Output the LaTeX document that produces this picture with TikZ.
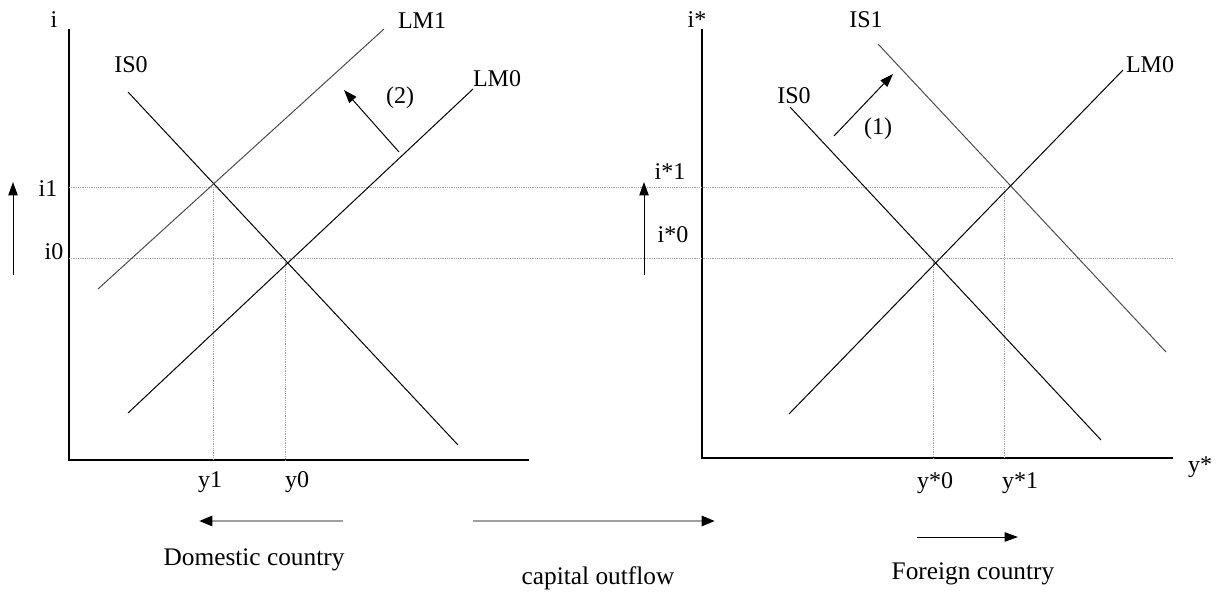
\documentclass[tikz,border=0pt]{standalone}
\usepackage{fontspec}
\setmainfont{Liberation Serif}
\usetikzlibrary{arrows.meta,positioning}

\begin{document}
\begin{tikzpicture}[x=0.75pt, y=-0.75pt,
        axis/.style={line width=1.5pt},
        curve/.style={line width=0.75pt},
        shifted/.style={line width=0.75pt, black!70},
        guide/.style={line width=0.75pt, gray!75, dash pattern=on 0.75pt off 0.6pt},
        arrow/.style={line width=0.75pt, -{Triangle[length=10pt, width=7pt]}},
        flow/.style={line width=2pt, gray!75, -{Triangle[length=10pt, width=7.5pt, color=black]}},
        lbl/.style={inner sep=0pt, font=\fontsize{18}{20}\selectfont},
        caption/.style={inner sep=0pt, font=\fontsize{19}{21}\selectfont}]

        \useasboundingbox (0,0) rectangle (1217,592);

        % Axes
        \coordinate (dtop) at (69,29);
        \coordinate (dorig) at (69,460);
        \coordinate (dend) at (529,460);
        \coordinate (ftop) at (702,29);
        \coordinate (forig) at (702,458);
        \coordinate (fend) at (1173,458);
        \draw[axis] (dtop) -- (dorig) -- (dend);
        \draw[axis] (ftop) -- (forig) -- (fend);

        % Equilibria
        \coordinate (dE1) at (213,187);
        \coordinate (dE0) at (285,258);
        \coordinate (fE0) at (933,258);
        \coordinate (fE1) at (1004,187);

        % Guide lines
        \draw[guide] (dtop |- dE1) -- (fE1);
        \draw[guide] (dtop |- dE0) -- (fend |- dE0);
        \draw[guide] (dE1) -- (dE1 |- dorig);
        \draw[guide] (dE0) -- (dE0 |- dorig);
        \draw[guide] (fE0) -- (fE0 |- forig);
        \draw[guide] (fE1) -- (fE1 |- forig);

        % Domestic curves
        \coordinate (dis0a) at (128,92);
        \coordinate (dis0b) at (458,445);
        \coordinate (dlm0a) at (128,413);
        \coordinate (dlm0b) at (473,89);
        \coordinate (dlm1a) at (98,289);
        \coordinate (dlm1b) at (384,29);
        \draw[curve] (dis0a) -- (dis0b);
        \draw[curve] (dlm0a) -- (dlm0b);
        \draw[shifted] (dlm1a) -- (dlm1b);

        % Foreign curves
        \coordinate (fis0a) at (790,107);
        \coordinate (fis0b) at (1101,440);
        \coordinate (fis1a) at (878,44);
        \coordinate (fis1b) at (1166,352);
        \coordinate (flm0a) at (789,414);
        \coordinate (flm0b) at (1123,70);
        \draw[curve] (fis0a) -- (fis0b);
        \draw[shifted] (fis1a) -- (fis1b);
        \draw[curve] (flm0a) -- (flm0b);

        % Labels
        \node[lbl] (ilab) at (54,20) {i};
        \node[lbl] (lm1lab) at (422,21) {LM1};
        \node[lbl] (is0lab) at (131,65) {IS0};
        \node[lbl] (lm0lab) at (497,79) {LM0};
        \node[lbl] (step2) at (400,98) {(2)};
        \node[lbl] (i1lab) at (48,189) {i1};
        \node[lbl] (i0lab) at (54,252) {i0};
        \node[lbl] (y1lab) at (210,482) {y1};
        \node[lbl] (y0lab) at (297,482) {y0};
        \node[lbl] (istarlab) at (697,20) {i*};
        \node[lbl] (fis1lab) at (866,20) {IS1};
        \node[lbl] (fis0lab) at (794,96) {IS0};
        \node[lbl] (flm0lab) at (1150,65) {LM0};
        \node[lbl] (step1) at (878,129) {(1)};
        \node[lbl] (istar1lab) at (670,172) {i*1};
        \node[lbl] (istar0lab) at (673,235) {i*0};
        \node[lbl] (ystar0lab) at (935,483) {y*0};
        \node[lbl] (ystar1lab) at (1020,483) {y*1};
        \node[lbl] (ystarlab) at (1200,467) {y*};
        \node[caption] (domlab) at (254,560) {Domestic country};
        \node[caption] (caplab) at (598,578) {capital outflow};
        \node[caption] (forlab) at (973,574) {Foreign country};

        % Arrows
        \coordinate (dup0) at (13,275);
        \coordinate (dup1) at (13,182);
        \coordinate (fup0) at (644,275);
        \coordinate (fup1) at (644,182);
        \coordinate (lmshift0) at (399,152);
        \coordinate (lmshift1) at (344,90);
        \coordinate (isshift0) at (834,136);
        \coordinate (isshift1) at (893,74);
        \coordinate (dout0) at (343,521);
        \coordinate (dout1) at (199,521);
        \coordinate (cap0) at (473,521);
        \coordinate (cap1) at (715,521);
        \coordinate (fout0) at (917,537);
        \coordinate (fout1) at (1018,537);
        \draw[arrow] (dup0) -- (dup1);
        \draw[arrow] (fup0) -- (fup1);
        \draw[arrow] (lmshift0) -- (lmshift1);
        \draw[arrow] (isshift0) -- (isshift1);
        \draw[flow] (dout0) -- (dout1);
        \draw[flow] (cap0) -- (cap1);
        \draw[arrow] (fout0) -- (fout1);

\end{tikzpicture}
\end{document}
